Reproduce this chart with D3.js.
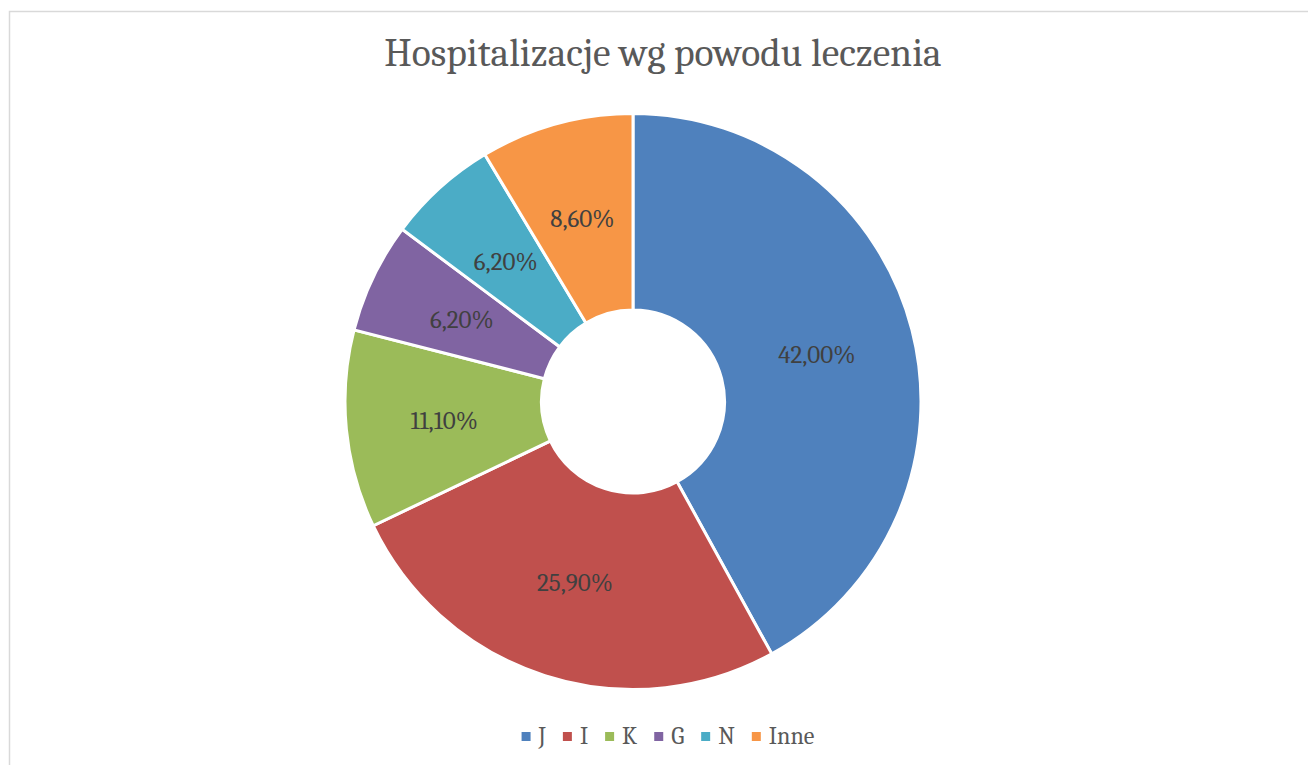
<!DOCTYPE html>
<html>
<head>
<meta charset="utf-8">
<script src="https://cdn.jsdelivr.net/npm/d3@7"></script>
<style>
  body { margin: 0; background: #fff; }
  svg { display: block; }
</style>
</head>
<body>
<div id="chart"></div>
<script>
// data
var categories = ['J', 'I', 'K', 'G', 'N', 'Inne'];
var values = [42.0, 25.9, 11.1, 6.2, 6.2, 8.6];
var colors = ['#4F81BD', '#C0504D', '#9BBB59', '#8064A2', '#4BACC6', '#F79646'];
var title = 'Hospitalizacje wg powodu leczenia';

var width = 1308, height = 765;
var cx = 633, cy = 401.5;
var outerR = 288, innerR = 91.5;
var areaCx = 664; // chart area centre, title + legend
var font = "Cambria, Caladea, 'Liberation Serif', serif";

var svg = d3.select('#chart').append('svg')
  .attr('width', width)
  .attr('height', height);

// chart area border
svg.append('rect')
  .attr('x', 9.5).attr('y', 11.5)
  .attr('width', 1400).attr('height', 800)
  .attr('fill', '#fff')
  .attr('stroke', '#d9d9d9')
  .attr('stroke-width', 1.5);

svg.append('text')
  .attr('x', areaCx - 1).attr('y', 66)
  .attr('text-anchor', 'middle')
  .style('font-family', font)
  .style('font-size', '39.5px')
  .style('fill', '#595959')
  .text(title);

var data = categories.map(function(c, i) { return {name: c, value: values[i], color: colors[i]}; });

var pie = d3.pie().sort(null).value(function(d) { return d.value; });
var arc = d3.arc().innerRadius(innerR).outerRadius(outerR);

var g = svg.append('g').attr('transform', 'translate(' + cx + ',' + cy + ')');

var slices = g.selectAll('.slice')
  .data(pie(data))
  .enter().append('g')
  .attr('class', 'slice');

slices.append('path')
  .attr('d', arc)
  .attr('fill', function(d) { return d.data.color; })
  .attr('stroke', '#fff')
  .attr('stroke-width', 3);

slices.append('text')
  .attr('transform', function(d) { return 'translate(' + arc.centroid(d) + ')'; })
  .attr('text-anchor', 'middle')
  .attr('dy', '0.35em')
  .style('font-family', font)
  .style('font-size', '25px')
  .style('fill', '#404040')
  .text(function(d) { return d3.format('.2f')(d.data.value).replace('.', ',') + '%'; });

// legend
var legend = svg.append('g').attr('class', 'legend');
var x = 0;
var items = legend.selectAll('.item')
  .data(data)
  .enter().append('g')
  .attr('class', 'item');

items.append('rect')
  .attr('width', 9).attr('height', 9)
  .attr('y', -12)
  .attr('fill', function(d) { return d.color; });

items.append('text')
  .attr('x', 17)
  .attr('y', 0)
  .style('font-family', font)
  .style('font-size', '24px')
  .style('fill', '#595959')
  .text(function(d) { return d.name; });

items.each(function() {
  var w = d3.select(this).select('text').node().getComputedTextLength();
  d3.select(this).attr('transform', 'translate(' + x + ',0)');
  x += 17 + w + 17;
});
var total = x - 17;
legend.attr('transform', 'translate(' + (areaCx + 4 - total / 2) + ',' + 744 + ')');
</script>
</body>
</html>
